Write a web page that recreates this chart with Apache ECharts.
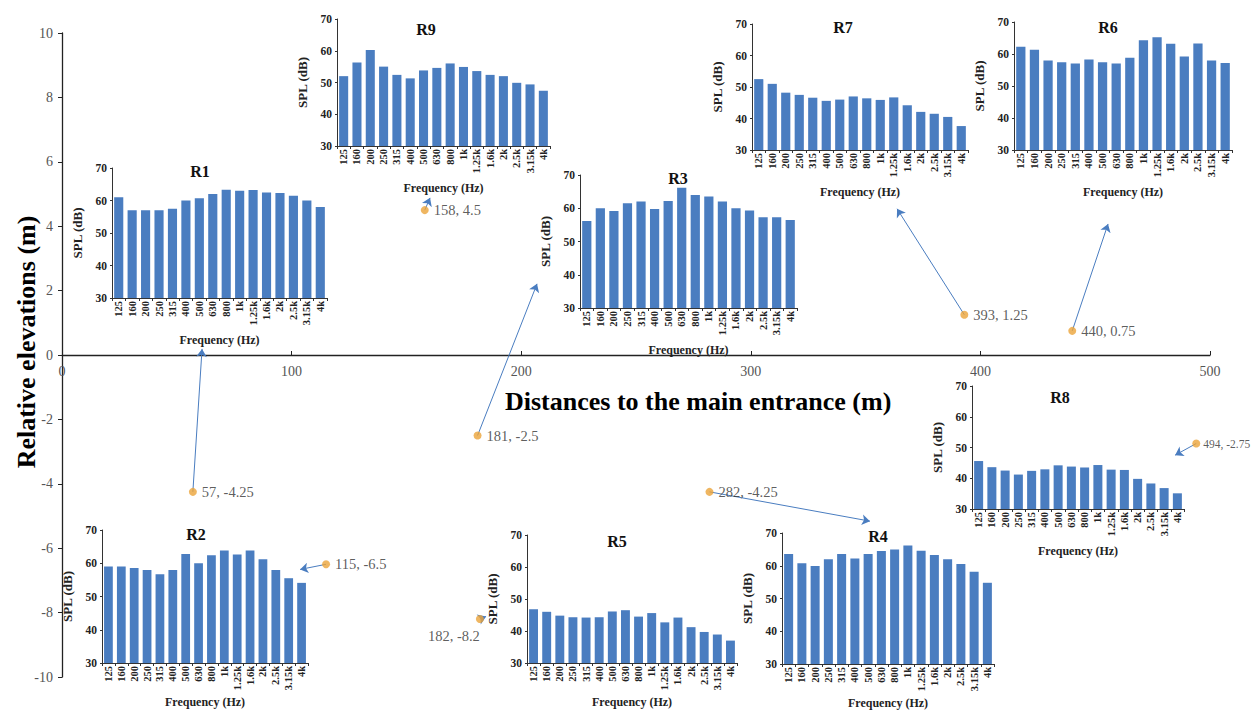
<!DOCTYPE html>
<html><head><meta charset="utf-8">
<script src="https://cdn.jsdelivr.net/npm/echarts@6/dist/echarts.min.js"></script>
<style>html,body{margin:0;padding:0;background:#fff}#c{width:1255px;height:711px}</style>
</head><body><div id="c"></div>
<script>
// ---- data ----
const freqs = ['125','160','200','250','315','400','500','630','800','1k','1.25k','1.6k','2k','2.5k','3.15k','4k'];
const sites = ['R1','R2','R3','R4','R5','R6','R7','R8','R9'];
const siteX = [57, 115, 181, 282, 182, 440, 393, 494, 158];
const siteY = [-4.25, -6.5, -2.5, -4.25, -8.2, 0.75, 1.25, -2.75, 4.5];
const siteLabels = ['57, -4.25','115, -6.5','181, -2.5','282, -4.25','182, -8.2','440, 0.75','393, 1.25','494, -2.75','158, 4.5'];
// arrow tips (data units of the main axes)
const tipX = [61.0, 103.7, 206.9, 351.9, 184.7, 455.6, 363.7, 484.8, 160.3];
const tipY = [0.19, -6.66, 2.21, -5.16, -8.12, 4.07, 4.54, -3.11, 4.88];
const splR1 = [61, 57, 57, 57, 57.5, 60, 60.7, 62, 63.3, 63, 63.2, 62.5, 62.3, 61.5, 60, 58];
const splR2 = [59, 59, 58.6, 58, 56.7, 58, 62.8, 60, 62.4, 63.8, 62.6, 63.8, 61.2, 58, 55.5, 54.1];
const splR3 = [56.2, 60, 59.2, 61.5, 62, 59.8, 62.2, 66.2, 64, 63.5, 62, 60, 59.3, 57.3, 57.3, 56.5];
const splR4 = [63.6, 60.8, 59.9, 62, 63.6, 62.2, 63.6, 64.5, 65, 66.2, 64.6, 63.3, 62, 60.5, 58.2, 54.8];
const splR5 = [46.8, 46, 44.8, 44.3, 44.2, 44.3, 46.1, 46.5, 44.5, 45.6, 42.7, 44.2, 41.2, 39.7, 38.9, 37];
const splR6 = [62.3, 61.3, 58, 57.4, 57, 58.3, 57.4, 57, 58.8, 64.3, 65.2, 63.2, 59.2, 63.3, 58, 57.2];
const splR7 = [52.5, 51, 48.2, 47.5, 46.6, 45.6, 46, 47, 46.4, 45.9, 46.7, 44.2, 42.1, 41.5, 40.5, 37.6];
const splR8 = [45.6, 43.6, 42.5, 41.2, 42.4, 42.9, 44.2, 43.8, 43.5, 44.3, 42.8, 42.7, 39.8, 38.3, 36.8, 35.1];
const splR9 = [52, 56.3, 60.2, 55, 52.4, 51.3, 53.8, 54.6, 56, 54.9, 53.6, 52.4, 52, 49.9, 49.4, 47.4];
const splAll = [splR1, splR2, splR3, splR4, splR5, splR6, splR7, splR8, splR9];

// ---- layout (pixels) ----
const insetBox = [ // left, top, width, height
  [112,168,215,130],[102,530,206,133],[580,175,217,133],[782,533,212,131],[527,535,210,128],
  [1014,22,218,128],[752,24,216,126],[972,386,212,123],[337,19,213,127]];
const titlePos = [[200,163],[196,526],[678,170],[878,528],[617,533],[1108,19],[843,19],[1060,389],[426,21]];
const freqNameGap = [36,33,36,33,33,36,36,36,36];

const SERIF = "'Liberation Serif','Times New Roman',serif";
const BAR = '#4A7DC0';
const DOT = '#EBA43A';
const grids = [{left:62, right:45, top:33, bottom:34, outerBoundsMode:'none', containLabel:false}];
const xAxes = [{
  type:'value', gridIndex:0, min:0, max:500, interval:100, position:'bottom', offset:-322,
  axisLine:{onZero:false, lineStyle:{color:'#222', width:1.3}},
  axisTick:{inside:true, length:4, lineStyle:{color:'#222'}},
  axisLabel:{fontFamily:SERIF, fontSize:14, color:'#555', margin:9},
  splitLine:{show:false}
}];
const yAxes = [{
  type:'value', gridIndex:0, min:-10, max:10, interval:2,
  axisLine:{show:true, lineStyle:{color:'#222', width:1.3}},
  axisTick:{show:true, length:4, lineStyle:{color:'#222'}},
  axisLabel:{fontFamily:SERIF, fontSize:14, color:'#555', margin:9},
  splitLine:{show:false}
}];
const titles = [{
  text:'Distances to the main entrance (m)', left:505, top:388,
  textStyle:{fontFamily:SERIF, fontSize:26, fontWeight:'bold', color:'#000'}, padding:0
}];
const graphics = [{
  type:'text', x:26, y:342, rotation:Math.PI/2, silent:true,
  style:{text:'Relative elevations (m)', align:'center', verticalAlign:'middle',
         font:"bold 26px 'Liberation Serif', 'Times New Roman', serif", fill:'#000'}
}];
const series = [
  {type:'lines', coordinateSystem:'cartesian2d', xAxisIndex:0, yAxisIndex:0, z:3,
   symbol:['none','arrow'], symbolSize:8, silent:true,
   lineStyle:{color:'#4A7DC0', width:1, opacity:1, curveness:0},
   data: sites.map((s,i)=>({coords:[[siteX[i],siteY[i]],[tipX[i],tipY[i]]]}))},
  {type:'scatter', xAxisIndex:0, yAxisIndex:0, z:5, symbolSize:8,
   itemStyle:{color:DOT},
   label:{show:true, position:'right', distance:5, fontFamily:SERIF, fontSize:14.5, color:'#333',
          formatter:(p)=>siteLabels[p.dataIndex]},
   data: sites.map((s,i)=>{
     const d = {value:[siteX[i],siteY[i]]};
     if (s==='R5') d.label = {position:'bottom', offset:[-26,0]};
     if (s==='R8') d.label = {distance:3, fontSize:11.5};
     return d;
   })}
];

sites.forEach((s,i)=>{
  const g = i+1, b = insetBox[i];
  grids.push({left:b[0], top:b[1], width:b[2], height:b[3], outerBoundsMode:'none', containLabel:false});
  xAxes.push({
    type:'category', gridIndex:g, data:freqs,
    name:'Frequency (Hz)', nameLocation:'middle', nameGap:freqNameGap[i],
    nameTextStyle:{fontFamily:SERIF, fontSize:12, fontWeight:'bold', color:'#222'},
    axisLine:{lineStyle:{color:'#333', width:1}},
    axisTick:{show:true, length:3, lineStyle:{color:'#333'}},
    axisLabel:{interval:0, rotate:90, fontFamily:SERIF, fontSize:10.5, fontWeight:'bold', color:'#222', margin:3}
  });
  yAxes.push({
    type:'value', gridIndex:g, min:30, max:70, interval:10,
    name:'SPL (dB)', nameLocation:'middle', nameGap:28,
    nameTextStyle:{fontFamily:SERIF, fontSize:13, fontWeight:'bold', color:'#222'},
    axisLine:{show:true, lineStyle:{color:'#333', width:1}},
    axisTick:{show:true, length:2, lineStyle:{color:'#333'}},
    axisLabel:{fontFamily:SERIF, fontSize:11.5, fontWeight:'bold', color:'#222', margin:5},
    splitLine:{show:false}
  });
  titles.push({text:s, left:titlePos[i][0], top:titlePos[i][1], textAlign:'center', padding:0,
    textStyle:{fontFamily:SERIF, fontSize:16, fontWeight:'bold', color:'#111'}});
  series.push({type:'bar', xAxisIndex:g, yAxisIndex:g, data:splAll[i], barCategoryGap:'32%',
    itemStyle:{color:BAR}, silent:true});
});

const chart = echarts.init(document.getElementById('c'), null, {renderer:'svg'});
chart.setOption({
  backgroundColor:'#fff', animation:false,
  title:titles, graphic:graphics, grid:grids, xAxis:xAxes, yAxis:yAxes, series:series
});
</script>
</body></html>
